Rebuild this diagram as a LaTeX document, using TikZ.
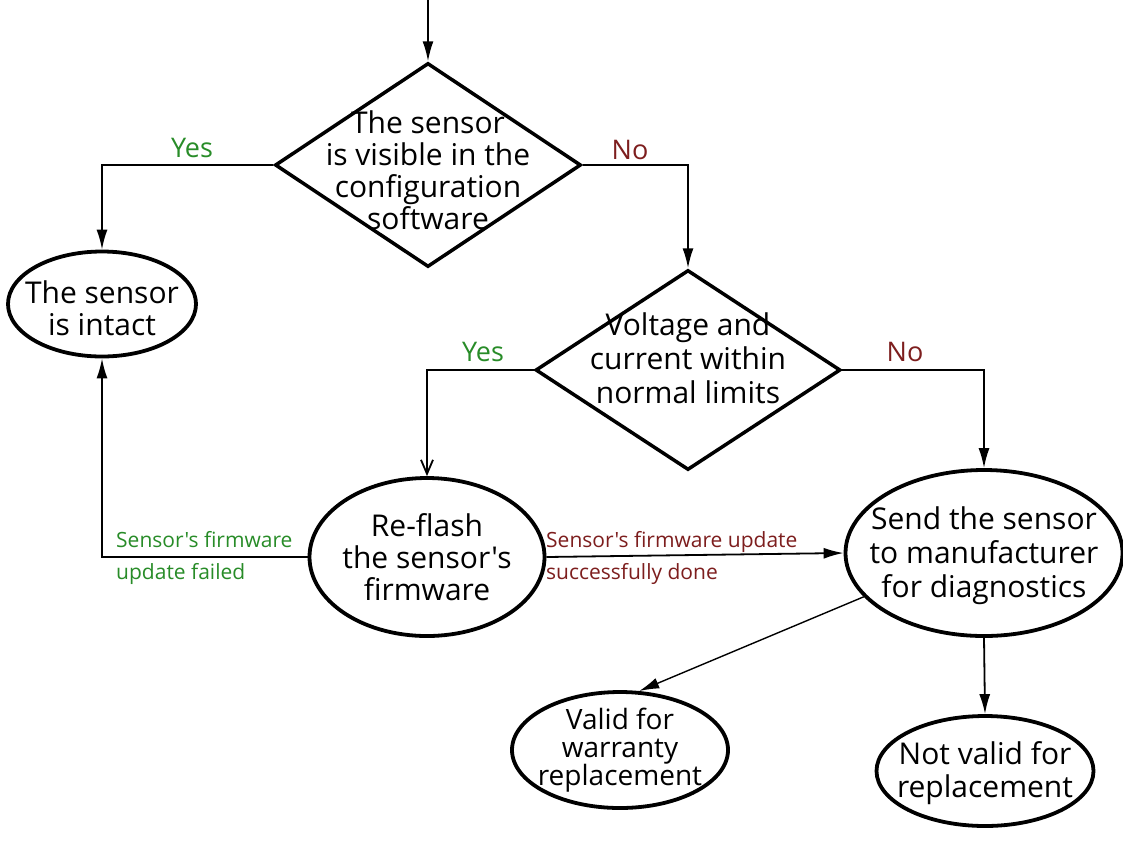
\documentclass[tikz,border=0pt]{standalone}
\usepackage{fontspec}
\setmainfont{Open Sans}[Ligatures=TeXOff]
\usetikzlibrary{shapes.geometric,arrows.meta}
\definecolor{yesgreen}{RGB}{40,140,40}
\definecolor{nored}{RGB}{125,30,30}
\begin{document}
\begin{tikzpicture}[x=1pt,y=-1pt,
  decbox/.style={draw, line width=3.5pt, diamond, inner sep=0pt},
  ellbox/.style={draw, line width=3.8pt, ellipse, inner sep=0pt},
  txt/.style={align=center, font=\fontsize{30}{32}\selectfont, inner sep=0pt},
  conn/.style={line width=1.8pt, -{Latex[length=20pt,width=11pt]}},
  openconn/.style={line width=1.8pt, -{Straight Barb[length=14pt,width=12pt]}},
  yeslab/.style={text=yesgreen, font=\fontsize{27}{30}\selectfont, inner sep=0pt},
  nolab/.style={text=nored, font=\fontsize{27}{30}\selectfont, inner sep=0pt},
  smallg/.style={text=yesgreen, font=\fontsize{21}{24}\selectfont, inner sep=0pt, anchor=base west},
  smallr/.style={text=nored, font=\fontsize{21}{24}\selectfont, inner sep=0pt, anchor=base west}
]
\useasboundingbox (0,0) rectangle (1123,844);
\fill[white] (0,0) rectangle (1123,844);

% shapes
\node[decbox, minimum width=306pt, minimum height=204pt] (d1) at (428,165) {};
\node[txt] (d1t) at (428,170) {The sensor\\is visible in the\\configuration\\software};
\node[decbox, minimum width=305pt, minimum height=200pt] (d2) at (688,370) {};
\node[txt, font=\fontsize{30}{34}\selectfont] (d2t) at (688,358) {Voltage and\\current within\\normal limits};

\node[ellbox, minimum width=188pt, minimum height=105pt] (e1) at (102,304) {};
\node[txt] (e1t) at (102,308) {The sensor\\is intact};

\node[ellbox, minimum width=235pt, minimum height=158pt] (re) at (427,557) {};
\node[txt] (ret) at (427,557) {Re-flash\\the sensor's\\firmware};

\node[ellbox, minimum width=277pt, minimum height=166pt] (send) at (984,553) {};
\node[txt, font=\fontsize{30}{34}\selectfont] (sendt) at (984,556) {Send the sensor\\to manufacturer\\for diagnostics};

\node[ellbox, minimum width=216pt, minimum height=116pt] (valid) at (620,750) {};
\node[txt, font=\fontsize{28}{28}\selectfont] (validt) at (620,750) {Valid for\\warranty\\replacement};

\node[ellbox, minimum width=217pt, minimum height=110pt] (notv) at (985,771) {};
\node[txt, font=\fontsize{30}{33}\selectfont] (notvt) at (985,773) {Not valid for\\replacement};

% start
\coordinate (start) at (428,0);
\draw[conn] (start) -- (d1.north);

% connectors
\draw[conn] (d1.west) -| (e1.north);
\draw[conn] (d1.east) -| (d2.north);
\draw[openconn] (d2.west) -| (re.north);
\draw[conn] (d2.east) -| (send.north);
\draw[conn] (re.west) -| (e1.south);
\draw[conn] (re.east) -- (send.west);
\draw[line width=1.4pt, -{Latex[length=20pt,width=11pt]}] (send.200) -- (valid.72);
\draw[conn] (send.south) -- (notv.north);

% labels
\node[yeslab] (y1) at (192,148) {Yes};
\node[nolab] (n1) at (630,150) {No};
\node[yeslab] (y2) at (483,352) {Yes};
\node[nolab] (n2) at (905,352) {No};
\node[smallg] (fail1) at (116,547) {Sensor's firmware};
\node[smallg] (fail2) at (116,579) {update failed};
\node[smallr] (ok1) at (546,547) {Sensor's firmware update};
\node[smallr] (ok2) at (546,579) {successfully done};
\end{tikzpicture}
\end{document}
